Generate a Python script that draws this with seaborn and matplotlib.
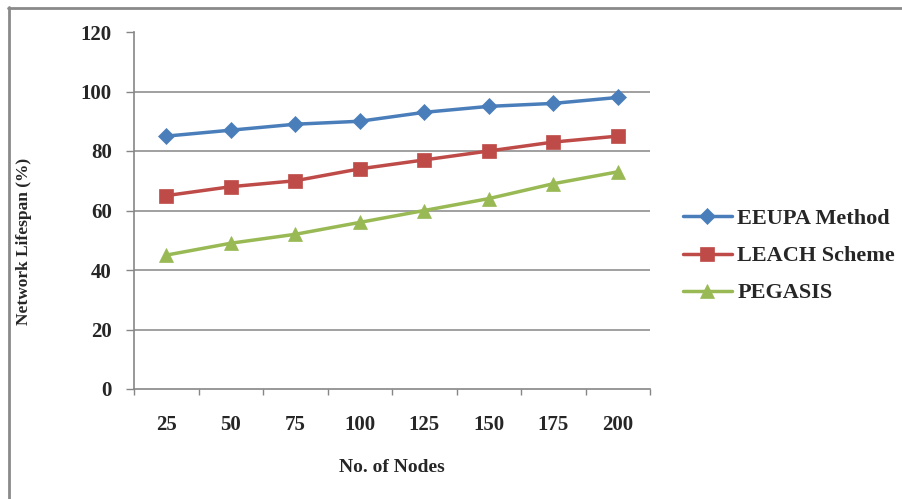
import matplotlib
matplotlib.use("Agg")
import matplotlib.pyplot as plt
from matplotlib.lines import Line2D
from matplotlib.ticker import FixedLocator
import numpy as np
import pandas as pd
import seaborn as sns

# Data
nodes = ["25", "50", "75", "100", "125", "150", "175", "200"]
eeupa = [85, 87, 89, 90, 93, 95, 96, 98]
leach = [65, 68, 70, 74, 77, 80, 83, 85]
pegasis = [45, 49, 52, 56, 60, 64, 69, 73]
series_names = ["EEUPA Method", "LEACH Scheme", "PEGASIS"]
y_ticks = [0, 20, 40, 60, 80, 100, 120]

colors = {"EEUPA Method": "#4A7EBB", "LEACH Scheme": "#BE4B48", "PEGASIS": "#98B954"}
markers = {"EEUPA Method": "D", "LEACH Scheme": "s", "PEGASIS": "^"}
msizes = {"EEUPA Method": 7.8, "LEACH Scheme": 10.5, "PEGASIS": 10.5}

rows = []
for name, vals in zip(series_names, [eeupa, leach, pegasis]):
    for i, (n, v) in enumerate(zip(nodes, vals)):
        rows.append({"pos": i, "Nodes": n, "Lifespan": v, "Series": name})
df = pd.DataFrame(rows)

sns.set_theme(style="white")
plt.rcParams["font.family"] = ["Liberation Serif", "DejaVu Serif"]
plt.rcParams["font.weight"] = "bold"

fig = plt.figure(figsize=(9.02, 4.99), dpi=100)
ax = fig.add_axes([134 / 902, 1 - 389 / 499, 516 / 902, 357 / 499])

for name in series_names:
    sub = df[df["Series"] == name]
    sns.lineplot(data=sub, x="pos", y="Lifespan", ax=ax, color=colors[name],
                 marker=markers[name], markersize=msizes[name],
                 markeredgecolor=colors[name], markeredgewidth=0.5,
                 linewidth=2.5, label=name)

grid_color = "#868686"
ax.set_xlim(-0.5, len(nodes) - 0.5)
ax.set_ylim(y_ticks[0], y_ticks[-1])
ax.yaxis.set_major_locator(FixedLocator(y_ticks))
ax.set_yticklabels([str(t) for t in y_ticks])
ax.set_xticks(range(len(nodes)))
ax.set_xticklabels(nodes)
ax.xaxis.set_minor_locator(FixedLocator(np.arange(-0.5, len(nodes), 1.0)))

ax.tick_params(axis="x", which="major", length=0, pad=19, labelsize=15)
ax.tick_params(axis="x", which="minor", direction="out", length=4,
               color=grid_color, width=1, bottom=True)
ax.tick_params(axis="y", which="major", direction="out", length=6,
               color=grid_color, width=1, pad=10, labelsize=15, left=True)
for lab in ax.get_xticklabels() + ax.get_yticklabels():
    lab.set_fontweight("bold")

# Horizontal gridlines except at the top of the scale
for t in y_ticks[1:-1]:
    ax.axhline(t, color=grid_color, linewidth=1.1, zorder=0)

for side in ["top", "right"]:
    ax.spines[side].set_visible(False)
for side in ["left", "bottom"]:
    ax.spines[side].set_color(grid_color)
    ax.spines[side].set_linewidth(1.2)

ax.set_xlabel("No. of Nodes", fontsize=14, fontweight="bold")
ax.set_ylabel("Network Lifespan (%)", fontsize=12.5, fontweight="bold")
ax.xaxis.set_label_coords(0.5, -0.195)
ax.yaxis.set_label_coords(-0.198, 0.413)

leg = ax.legend(loc="center left", bbox_to_anchor=(683 / 902, 1 - 256 / 499),
                bbox_transform=fig.transFigure, frameon=False,
                prop={"family": "Liberation Serif", "weight": "bold", "size": 16},
                handlelength=2.2, handletextpad=0.25, labelspacing=0.75,
                borderpad=0, borderaxespad=0)

# Outer frame (top and left edges)
fig.add_artist(Line2D([8 / 902, 1.0], [1 - 8 / 499, 1 - 8 / 499],
                      transform=fig.transFigure, color="#8A8A8A", linewidth=2))
fig.add_artist(Line2D([9 / 902, 9 / 902], [0.0, 1 - 7 / 499],
                      transform=fig.transFigure, color="#8A8A8A", linewidth=2))

fig.savefig("out.png", dpi=100, facecolor="white")
